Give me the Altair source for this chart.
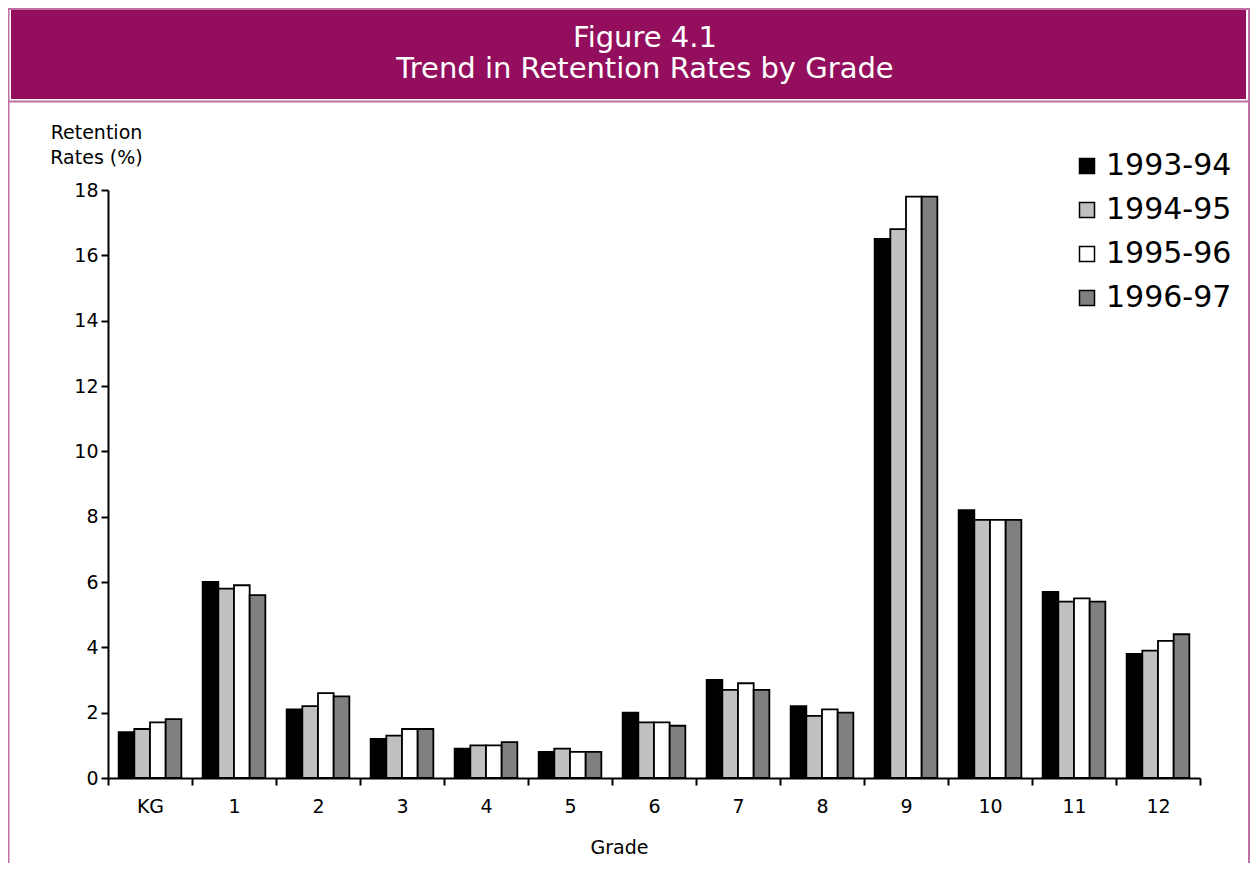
import altair as alt
import pandas as pd

# ---- data ----
grades = ["KG", "1", "2", "3", "4", "5", "6", "7", "8", "9", "10", "11", "12"]
years = ["1993-94", "1994-95", "1995-96", "1996-97"]
r_1993_94 = [1.4, 6.0, 2.1, 1.2, 0.9, 0.8, 2.0, 3.0, 2.2, 16.5, 8.2, 5.7, 3.8]
r_1994_95 = [1.5, 5.8, 2.2, 1.3, 1.0, 0.9, 1.7, 2.7, 1.9, 16.8, 7.9, 5.4, 3.9]
r_1995_96 = [1.7, 5.9, 2.6, 1.5, 1.0, 0.8, 1.7, 2.9, 2.1, 17.8, 7.9, 5.5, 4.2]
r_1996_97 = [1.8, 5.6, 2.5, 1.5, 1.1, 0.8, 1.6, 2.7, 2.0, 17.8, 7.9, 5.4, 4.4]
y_ticks = [0, 2, 4, 6, 8, 10, 12, 14, 16, 18]
title_lines = ["Figure 4.1", "Trend in Retention Rates by Grade"]
y_title = ["Retention", "Rates (%)"]
x_title = "Grade"

series = [r_1993_94, r_1994_95, r_1995_96, r_1996_97]
rows = []
for yr, vals in zip(years, series):
    for g, v in zip(grades, vals):
        rows.append({"Grade": g, "Year": yr, "Rate": v})
df = pd.DataFrame(rows)

FONT = "DejaVu Sans"
HEADER_FILL = "#930F5E"
FRAME = "#BE6FA4"
one = pd.DataFrame({"k": [0]})

# ---- decorations: header band and frame ----
header = alt.Chart(one).mark_rect(fill=HEADER_FILL, clip=False).encode(
    x=alt.value(-97), x2=alt.value(1138), y=alt.value(-180), y2=alt.value(-91)
)
frame = alt.Chart(one).mark_rect(fill=None, filled=False, stroke=FRAME, strokeWidth=2, clip=False).encode(
    x=alt.value(-99.5), x2=alt.value(1141), y=alt.value(-181), y2=alt.value(800)
)
sep = alt.Chart(one).mark_rule(stroke=FRAME, strokeWidth=2, clip=False).encode(
    x=alt.value(-100), x2=alt.value(1142), y=alt.value(-88.5)
)
t1 = alt.Chart(one).mark_text(
    font=FONT, fontSize=29, color="white", align="center", baseline="alphabetic", clip=False
).encode(x=alt.value(537), y=alt.value(-143), text=alt.value(title_lines[0]))
t2 = alt.Chart(one).mark_text(
    font=FONT, fontSize=29, color="white", align="center", baseline="alphabetic", clip=False
).encode(x=alt.value(537), y=alt.value(-112), text=alt.value(title_lines[1]))

# ---- bars ----
bars = alt.Chart(df).mark_bar(stroke="black", strokeWidth=1.8).encode(
    x=alt.X(
        "Grade:N",
        sort=grades,
        scale=alt.Scale(paddingInner=0, paddingOuter=0),
        axis=alt.Axis(
            title=x_title,
            titleX=511,
            titleY=75,
            titleAlign="center",
            titleBaseline="alphabetic",
            titleFont=FONT,
            titleFontSize=19,
            titleFontWeight="normal",
            titleColor="black",
            labelAngle=0,
            labelFont=FONT,
            labelFontSize=19,
            labelColor="black",
            labelPadding=12,
            tickBand="extent",
            tickSize=7,
            tickWidth=2,
            tickColor="black",
            domainColor="black",
            domainWidth=2,
            grid=False,
        ),
    ),
    xOffset=alt.XOffset("Year:N", sort=years, scale=alt.Scale(paddingInner=0, paddingOuter=0.68)),
    y=alt.Y(
        "Rate:Q",
        scale=alt.Scale(domain=[0, 18], nice=False, zero=True),
        axis=alt.Axis(
            title=y_title,
            values=y_ticks,
            titleAngle=0,
            titleX=-12,
            titleY=-52,
            titleAlign="center",
            titleBaseline="alphabetic",
            titleLineHeight=25,
            titleFont=FONT,
            titleFontSize=19,
            titleFontWeight="normal",
            titleColor="black",
            labelFont=FONT,
            labelFontSize=19,
            labelColor="black",
            labelPadding=3,
            tickSize=7,
            tickWidth=2,
            tickColor="black",
            domainColor="black",
            domainWidth=2,
            grid=False,
        ),
    ),
    color=alt.Color(
        "Year:N",
        sort=years,
        scale=alt.Scale(domain=years, range=["#000000", "#C0C0C0", "#FFFFFF", "#808080"]),
        legend=alt.Legend(
            title=None,
            orient="none",
            legendX=964,
            legendY=-39,
            symbolType="square",
            symbolSize=225,
            symbolStrokeColor="black",
            symbolStrokeWidth=1.5,
            symbolOpacity=1,
            labelFont=FONT,
            labelFontSize=30,
            labelColor="black",
            labelOffset=4,
            rowPadding=14,
            padding=0,
            labelLimit=300,
        ),
    ),
)

chart = (
    alt.layer(header, frame, sep, t1, t2, bars)
    .properties(
        width=1092,
        height=588,
        autosize=alt.AutoSizeParams(type="none"),
        padding={"left": 100, "top": 182, "right": 51, "bottom": 85},
        background="white",
    )
    .configure_view(stroke=None)
)

chart.save("out.html", embed_options={"renderer": "svg", "actions": False})
